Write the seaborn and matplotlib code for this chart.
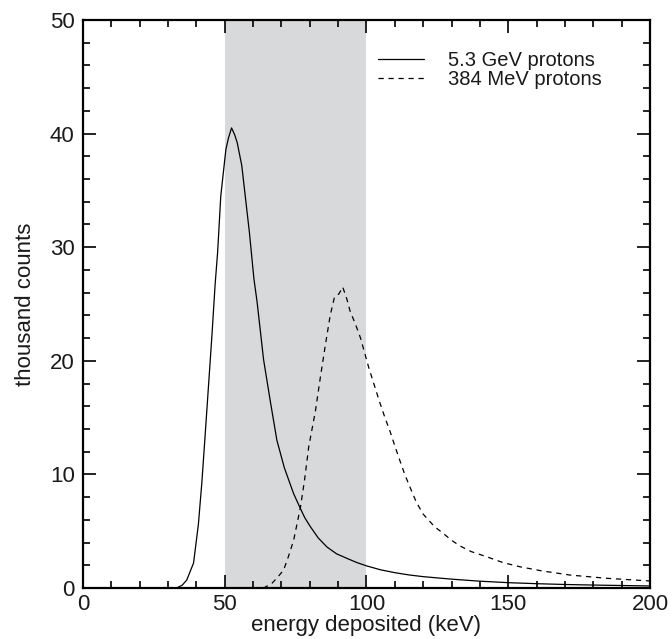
import matplotlib
matplotlib.use("Agg")
import matplotlib.pyplot as plt
import seaborn as sns
import pandas as pd
from matplotlib.ticker import MultipleLocator

# 5.3 GeV protons (solid)
gev_x = [30, 33, 35, 36.6, 39, 40.7, 41.9, 43.1, 44.3, 45.5, 46.6, 47.5, 48.6,
         50.4, 51.3, 52.4, 53.5, 54.4, 56, 57.1, 58.7, 60.3, 61.4, 63.7, 66.1,
         68.4, 71, 74.3, 76.5, 78.2, 80.2, 83, 86.1, 89.5, 93.2, 96.5, 100,
         105, 110, 115, 120, 130, 140, 150, 160, 170, 180, 190, 200]
gev_y = [0, 0, 0.25, 0.7, 2.2, 5.6, 9.2, 13.5, 17.9, 22.3, 26.7, 29.6, 34.5,
         38.6, 39.6, 40.5, 39.9, 39.2, 37.2, 34.8, 31.3, 27.2, 25.2, 20.1, 16.4,
         13.0, 10.6, 8.3, 7.1, 6.2, 5.4, 4.4, 3.6, 3.0, 2.6, 2.25, 1.95,
         1.6, 1.35, 1.15, 1.0, 0.78, 0.6, 0.47, 0.38, 0.31, 0.26, 0.22, 0.18]

# 384 MeV protons (dashed)
mev_x = [60, 63.7, 66.6, 68.5, 70.8, 72.5, 74.3, 76.7, 78.2, 79.6, 82, 83.7,
         85.5, 87.2, 88.7, 90.3, 91.6, 93, 94.3, 96, 97.9, 100.8, 104.6, 106.5,
         108.3, 110, 111.8, 113.5, 115.3, 117.5, 120, 124, 127.1, 130, 133,
         137, 142.4, 148, 154.1, 162, 171.8, 185, 200]
mev_y = [0, 0, 0.4, 0.9, 1.6, 2.8, 4.2, 7.1, 9.6, 12.4, 15.6, 18.5,
         21.4, 24.0, 25.6, 25.9, 26.5, 25.5, 24.3, 23.3, 22.0, 19.4, 16.4, 15.0,
         13.8, 12.5, 11.2, 10.0, 8.9, 7.6, 6.5, 5.4, 4.8, 4.2, 3.7,
         3.2, 2.75, 2.25, 1.87, 1.5, 1.14, 0.85, 0.62]

series_labels = ["5.3 GeV protons", "384 MeV protons"]
band = (50, 100)
x_label = "energy deposited (keV)"
y_label = "thousand counts"

sns.set_theme(style="ticks")
plt.rcParams["font.family"] = ["Liberation Sans", "DejaVu Sans"]
plt.rcParams["text.color"] = "#1a1a1a"
plt.rcParams["axes.labelcolor"] = "#1a1a1a"
plt.rcParams["xtick.labelcolor"] = "#1a1a1a"
plt.rcParams["ytick.labelcolor"] = "#1a1a1a"

fig = plt.figure(figsize=(6.72, 6.39), dpi=100)
ax = fig.add_axes([0.1235, 0.0798, 0.84375, 0.8889])

ax.axvspan(band[0], band[1], color="#d8d9db", lw=0, zorder=0)

df1 = pd.DataFrame({"x": gev_x, "y": gev_y})
df2 = pd.DataFrame({"x": mev_x, "y": mev_y})
sns.lineplot(data=df1, x="x", y="y", ax=ax, color="black", lw=0.9,
             label=series_labels[0], sort=False)
sns.lineplot(data=df2, x="x", y="y", ax=ax, color="black", lw=0.9,
             linestyle=(0, (4.2, 3.8)), label=series_labels[1], sort=False)

ax.set_xlim(0, 200)
ax.set_ylim(0, 50)
ax.xaxis.set_major_locator(MultipleLocator(50))
ax.xaxis.set_minor_locator(MultipleLocator(10))
ax.yaxis.set_major_locator(MultipleLocator(10))
ax.yaxis.set_minor_locator(MultipleLocator(2))
ax.tick_params(which="both", direction="in", top=True, right=True,
               color="black", width=1.2)
ax.tick_params(which="major", length=9.5, labelsize=16)
ax.tick_params(axis="x", which="major", pad=4)
ax.tick_params(axis="y", which="major", pad=6)
ax.tick_params(which="minor", length=5)
for s in ax.spines.values():
    s.set_linewidth(1.6)
    s.set_color("black")

ax.set_xlabel(x_label, fontsize=16, labelpad=0)
ax.set_ylabel(y_label, fontsize=16, labelpad=10)

leg = ax.legend(loc="upper left", bbox_to_anchor=(0.5203, 0.946), frameon=False,
                fontsize=14.5, handlelength=2.3, handletextpad=1.2,
                borderpad=0, borderaxespad=0, labelspacing=0.0)

fig.savefig("out.png", dpi=100)
